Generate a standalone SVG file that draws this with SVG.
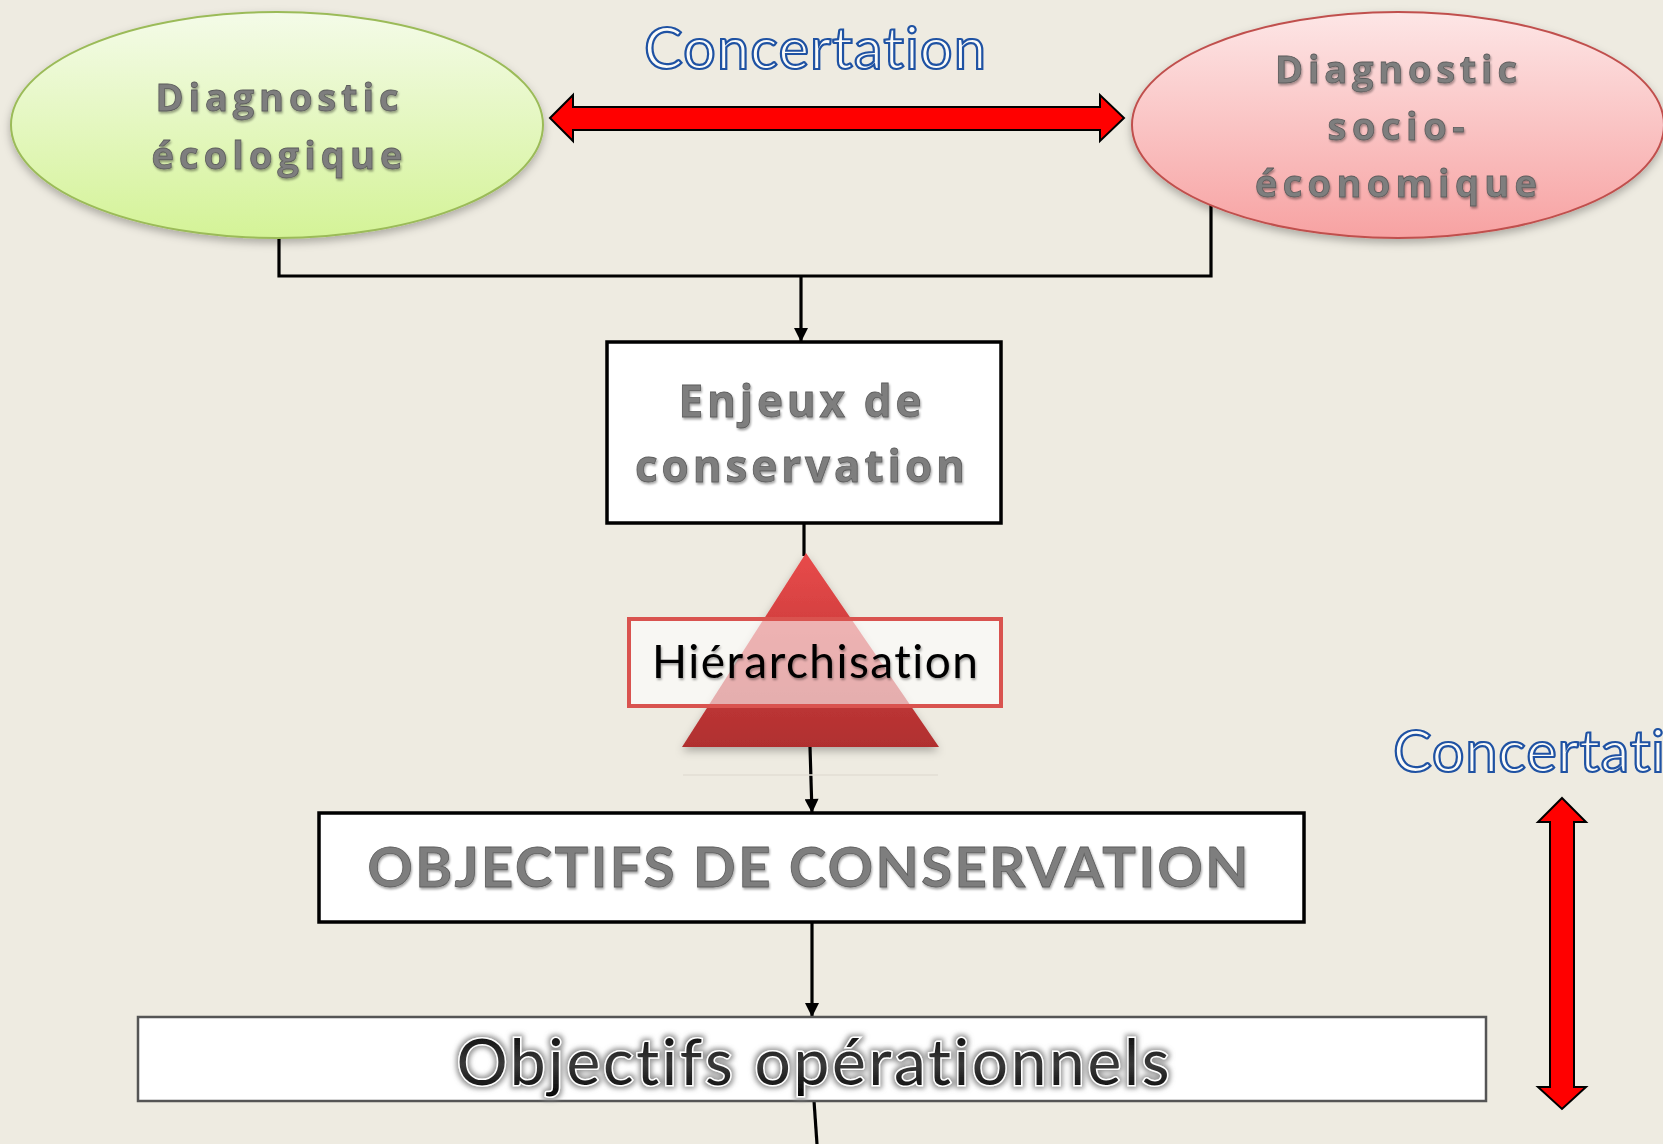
<svg xmlns="http://www.w3.org/2000/svg" width="1663" height="1144" viewBox="0 0 1663 1144">
<defs>
  <linearGradient id="gGreen" x1="0" y1="0" x2="0" y2="1">
    <stop offset="0" stop-color="#f4fbe8"/>
    <stop offset="1" stop-color="#d4f397"/>
  </linearGradient>
  <linearGradient id="gPink" x1="0" y1="0" x2="0" y2="1">
    <stop offset="0" stop-color="#fde6e6"/>
    <stop offset="1" stop-color="#f7a2a2"/>
  </linearGradient>
  <linearGradient id="gTri" x1="0" y1="0" x2="0" y2="1">
    <stop offset="0" stop-color="#e84a4a"/>
    <stop offset="1" stop-color="#b02f2f"/>
  </linearGradient>
  <linearGradient id="gBlack" x1="0" y1="0" x2="0" y2="1">
    <stop offset="0" stop-color="#000"/>
    <stop offset="0.55" stop-color="#3a3a3a"/>
    <stop offset="1" stop-color="#000"/>
  </linearGradient>
  <filter id="shadow" x="-10%" y="-10%" width="120%" height="130%">
    <feDropShadow dx="0" dy="4" stdDeviation="4" flood-color="#000" flood-opacity="0.28"/>
  </filter>
  <filter id="txtShadow" x="-5%" y="-20%" width="110%" height="150%">
    <feDropShadow dx="1" dy="2" stdDeviation="1" flood-color="#000" flood-opacity="0.35"/>
  </filter>
  <filter id="glow" x="-5%" y="-20%" width="110%" height="150%">
    <feMorphology in="SourceAlpha" operator="dilate" radius="2" result="d"/>
    <feGaussianBlur in="d" stdDeviation="2.5" result="b"/>
    <feFlood flood-color="#8a8a8a" flood-opacity="0.9"/>
    <feComposite in2="b" operator="in" result="g"/>
    <feMerge><feMergeNode in="g"/><feMergeNode in="SourceGraphic"/></feMerge>
  </filter>
  <marker id="arr" viewBox="0 0 10 10" refX="10" refY="5" markerWidth="15" markerHeight="14" markerUnits="userSpaceOnUse" orient="auto">
    <path d="M0,0 L10,5 L0,10 z" fill="#000"/>
  </marker>
  <style>
    text { font-variant-ligatures: none; font-feature-settings: "liga" 0, "clig" 0; }
    .gray { font-family: "Open Sans", Lato, sans-serif; font-weight: bold; fill: #7e7e7e; stroke: #5c5c5c; stroke-width: 0.8; text-anchor: middle; filter: url(#txtShadow); }
    .grayL { font-family: Lato, "Open Sans", sans-serif; font-weight: bold; fill: #7e7e7e; stroke: #5c5c5c; stroke-width: 0.8; text-anchor: middle; filter: url(#txtShadow); }
    .blue { font-family: Lato, "Open Sans", sans-serif; font-size: 58px; fill: #fbfbf8; stroke: #1f52a3; stroke-width: 2.2; }
    .conn { stroke: #000; stroke-width: 3.2; fill: none; }
    .box { fill: #fff; stroke: #000; stroke-width: 3.5; }
    .red { fill: #ff0000; stroke: #000; stroke-width: 2; stroke-linejoin: miter; }
  </style>
</defs>
<rect x="0" y="0" width="1663" height="1144" fill="#eeebe1"/>

<g id="connectors">
  <path class="conn" d="M279,238 V276 H1211 V205"/>
  <path class="conn" d="M801,276 V342" marker-end="url(#arr)"/>
  <path class="conn" d="M804,523 V556"/>
  <path class="conn" d="M810,747 L812,813" marker-end="url(#arr)"/>
  <path class="conn" d="M812,922 V1017" marker-end="url(#arr)"/>
  <path class="conn" d="M814,1101 L817,1144"/>
</g>

<g id="node-eco">
  <ellipse cx="277" cy="125" rx="266" ry="113" fill="url(#gGreen)" stroke="#9bbb59" stroke-width="2" filter="url(#shadow)"/>
  <text class="gray" font-size="38" x="277" y="111" textLength="243">Diagnostic</text>
  <text class="gray" font-size="38" x="277" y="169" textLength="251">écologique</text>
</g>

<g id="node-socio">
  <ellipse cx="1398" cy="125" rx="266" ry="113" fill="url(#gPink)" stroke="#c0504d" stroke-width="2" filter="url(#shadow)"/>
  <text class="gray" font-size="38" x="1396" y="83" textLength="242">Diagnostic</text>
  <text class="gray" font-size="38" x="1396" y="140" textLength="137">socio-</text>
  <text class="gray" font-size="38" x="1396" y="197" textLength="282">économique</text>
</g>

<g id="arrow-concertation-h">
  <polygon class="red" points="550,118 573,95 573,107 1100,107 1100,95 1124,118 1100,141 1100,130 573,130 573,141"/>
  <text class="blue" x="644" y="69" textLength="342">Concertation</text>
</g>

<g id="node-enjeux">
  <rect class="box" x="607" y="342" width="394" height="181"/>
  <text class="gray" font-size="44" x="800" y="417" textLength="243">Enjeux de</text>
  <text class="gray" font-size="44" x="800" y="482" textLength="330">conservation</text>
</g>

<g id="node-hierarchisation">
  <line x1="683" y1="775" x2="938" y2="775" stroke="#e2ded3" stroke-width="1.5"/>
  <polygon points="806,553 682,747 939,747" fill="url(#gTri)" filter="url(#shadow)"/>
  <rect x="629" y="619" width="372" height="87" fill="#ffffff" fill-opacity="0.6" stroke="#d9534f" stroke-width="4"/>
  <text x="815" y="678" font-family="Lato, 'Open Sans', sans-serif" font-size="46" fill="#000" text-anchor="middle" textLength="326" filter="url(#txtShadow)">Hiérarchisation</text>
</g>

<g id="node-objectifs">
  <rect class="box" x="319" y="813" width="985" height="109"/>
  <text class="grayL" font-size="56" x="808" y="887" textLength="881">OBJECTIFS DE CONSERVATION</text>
</g>

<g id="node-operationnels">
  <rect x="138" y="1017" width="1348" height="84" fill="#fff" stroke="#555" stroke-width="2.5"/>
  <text x="813" y="1085" font-family="Lato, 'Open Sans', sans-serif" font-size="64" fill="url(#gBlack)" stroke="#fff" stroke-width="3" paint-order="stroke" text-anchor="middle" textLength="713" filter="url(#glow)">Objectifs opérationnels</text>
</g>

<g id="arrow-concertation-v">
  <text class="blue" x="1393" y="772" textLength="272">Concertati</text>
  <polygon class="red" points="1562,798 1586,822 1574,822 1574,1087 1586,1087 1562,1109 1538,1087 1550,1087 1550,822 1538,822"/>
</g>
</svg>
